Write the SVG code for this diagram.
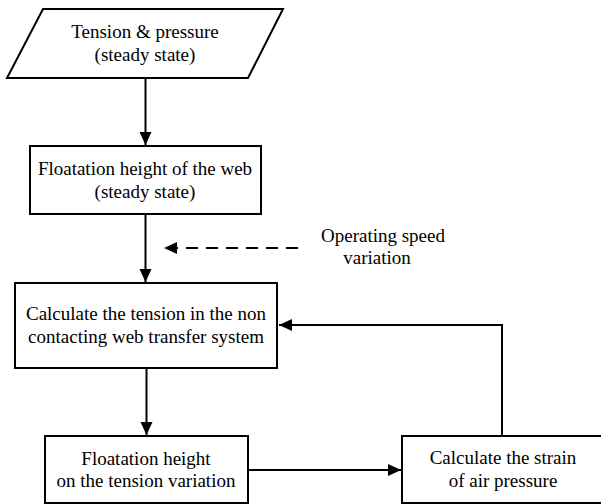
<svg xmlns="http://www.w3.org/2000/svg" width="601" height="504" viewBox="0 0 601 504">
<style>
.n{fill:#fff;stroke:#000;stroke-width:2}
.t{font-family:"Liberation Serif","Times New Roman",serif;font-size:19px;fill:#000;text-anchor:middle}
.c{fill:none;stroke:#000;stroke-width:2}
.d{fill:none;stroke:#000;stroke-width:2;stroke-dasharray:12 8}
</style>
<defs>
<marker id="ah" markerWidth="15" markerHeight="13" refX="13" refY="6" orient="auto" markerUnits="userSpaceOnUse">
<path d="M0,0 L13,6 L0,12 Z" fill="#000"/>
</marker>
</defs>
<rect width="601" height="504" fill="#fff"/>
<g id="connectors">
<line class="c" x1="145.5" y1="78" x2="145.5" y2="145" marker-end="url(#ah)"/>
<line class="c" x1="145.5" y1="214" x2="145.5" y2="282" marker-end="url(#ah)"/>
<line class="d" x1="298" y1="248" x2="164" y2="248" marker-end="url(#ah)"/>
<line class="c" x1="146.5" y1="368" x2="146.5" y2="435" marker-end="url(#ah)"/>
<line class="c" x1="248" y1="470" x2="401" y2="470" marker-end="url(#ah)"/>
<polyline class="c" points="502,436 502,325 279,325" marker-end="url(#ah)"/>
</g>
<g id="n1">
<polygon class="n" points="43,9 283,9 248,78 7,78"/>
<text class="t" x="145" y="38">Tension &amp; pressure</text>
<text class="t" x="145" y="61">(steady state)</text>
</g>
<g id="n2">
<rect class="n" x="30" y="146" width="231" height="68"/>
<text class="t" x="145" y="175">Floatation height of the web</text>
<text class="t" x="145" y="198">(steady state)</text>
</g>
<g id="label">
<text class="t" x="383" y="242">Operating speed</text>
<text class="t" x="377" y="264">variation</text>
</g>
<g id="n3">
<rect class="n" x="15" y="283" width="262" height="85"/>
<text class="t" x="146" y="320">Calculate the tension in the non</text>
<text class="t" x="146" y="343">contacting web transfer system</text>
</g>
<g id="n4">
<rect class="n" x="45" y="436" width="203" height="67"/>
<text class="t" x="146" y="465">Floatation height</text>
<text class="t" x="146" y="487">on the tension variation</text>
</g>
<g id="n5">
<rect class="n" x="402" y="436" width="220" height="67"/>
<text class="t" x="503" y="464">Calculate the strain</text>
<text class="t" x="503" y="487">of air pressure</text>
</g>
</svg>
